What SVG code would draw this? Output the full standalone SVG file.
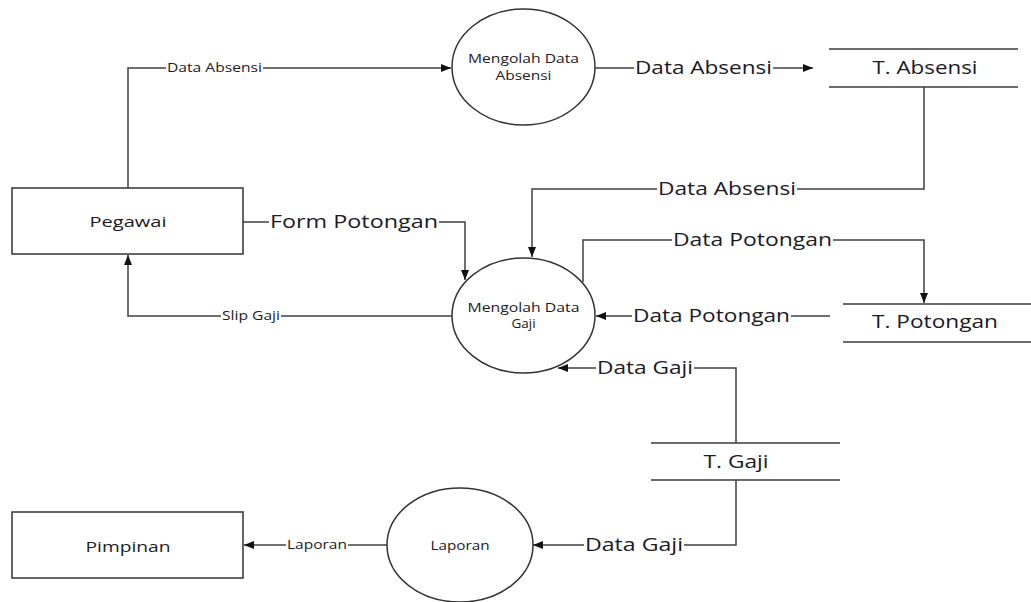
<svg xmlns="http://www.w3.org/2000/svg" width="1031" height="602" viewBox="0 0 1031 602">
  <defs>
    <style>
      .shape { fill: #ffffff; stroke: #333333; stroke-width: 1.5; }
      .store { stroke: #3a3a3a; stroke-width: 1.5; fill: none; }
      .flow { fill: none; stroke: #404040; stroke-width: 1.5; marker-end: url(#arrow); }
      .bg { fill: #ffffff; }
      text { font-family: "Open Sans", "Liberation Sans", sans-serif; fill: #1a1a26; }
      .sm { font-size: 12px; }
      .md { font-size: 13.5px; text-anchor: middle; }
      .ent { font-size: 14px; text-anchor: middle; }
      .lg { font-size: 18px; }
      .st { font-size: 18px; text-anchor: middle; }
    </style>
    <marker id="arrow" markerUnits="userSpaceOnUse" markerWidth="10" markerHeight="10" viewBox="0 0 10 10" refX="10" refY="5" orient="auto">
      <path d="M0,1 L10,5 L0,9 Z" fill="#111111"/>
    </marker>
  </defs>

  <!-- data flows -->
  <g id="connectors">
    <path class="flow" d="M128,188 V68 H451"/>
    <path class="flow" d="M595,68 H813"/>
    <path class="flow" d="M924,87 V189 H532 V257"/>
    <path class="flow" d="M243,222 H465 V280"/>
    <path class="flow" d="M452,316 H128 V255"/>
    <path class="flow" d="M583,282 V240 H924 V303"/>
    <path class="flow" d="M830,316 H596"/>
    <path class="flow" d="M736,443 V368 H558"/>
    <path class="flow" d="M736,480 V545 H533"/>
    <path class="flow" d="M387,545 H244"/>
  </g>

  <!-- flow labels -->
  <g id="flow-labels">
    <rect class="bg" x="166" y="62" width="97" height="12"/>
    <text class="sm" x="167" y="72" textLength="95" lengthAdjust="spacingAndGlyphs">Data Absensi</text>

    <rect class="bg" x="634" y="59" width="139" height="18"/>
    <text class="lg" x="635" y="74" textLength="137" lengthAdjust="spacingAndGlyphs">Data Absensi</text>

    <rect class="bg" x="657" y="180" width="140" height="18"/>
    <text class="lg" x="658" y="195" textLength="138" lengthAdjust="spacingAndGlyphs">Data Absensi</text>

    <rect class="bg" x="269" y="213" width="170" height="18"/>
    <text class="lg" x="270" y="228" textLength="168" lengthAdjust="spacingAndGlyphs">Form Potongan</text>

    <rect class="bg" x="221" y="310" width="60" height="12"/>
    <text class="sm" x="222" y="320" textLength="58" lengthAdjust="spacingAndGlyphs">Slip Gaji</text>

    <rect class="bg" x="672" y="231" width="161" height="18"/>
    <text class="lg" x="673" y="246" textLength="159" lengthAdjust="spacingAndGlyphs">Data Potongan</text>

    <rect class="bg" x="632" y="307" width="159" height="18"/>
    <text class="lg" x="633" y="322" textLength="157" lengthAdjust="spacingAndGlyphs">Data Potongan</text>

    <rect class="bg" x="596" y="359" width="98" height="18"/>
    <text class="lg" x="597" y="374" textLength="96" lengthAdjust="spacingAndGlyphs">Data Gaji</text>

    <rect class="bg" x="584" y="536" width="100" height="18"/>
    <text class="lg" x="585" y="551" textLength="98" lengthAdjust="spacingAndGlyphs">Data Gaji</text>

    <rect class="bg" x="286" y="539" width="62" height="12"/>
    <text class="sm" x="287" y="549" textLength="60" lengthAdjust="spacingAndGlyphs">Laporan</text>
  </g>

  <!-- external entities -->
  <g id="pegawai">
    <rect class="shape" x="12" y="188" width="231" height="66"/>
    <text class="ent" x="128" y="227" textLength="77" lengthAdjust="spacingAndGlyphs">Pegawai</text>
  </g>
  <g id="pimpinan">
    <rect class="shape" x="12" y="512" width="231" height="66"/>
    <text class="ent" x="128" y="552" textLength="85" lengthAdjust="spacingAndGlyphs">Pimpinan</text>
  </g>

  <!-- processes -->
  <g id="mengolah-data-absensi">
    <ellipse class="shape" cx="523.5" cy="67" rx="71.5" ry="58"/>
    <text class="md" x="523.5" y="63" textLength="111" lengthAdjust="spacingAndGlyphs">Mengolah Data</text>
    <text class="md" x="523.5" y="80" textLength="56" lengthAdjust="spacingAndGlyphs">Absensi</text>
  </g>
  <g id="mengolah-data-gaji">
    <ellipse class="shape" cx="523.5" cy="315.5" rx="71.5" ry="57.5"/>
    <text class="md" x="523.5" y="312" textLength="112" lengthAdjust="spacingAndGlyphs">Mengolah Data</text>
    <text class="md" x="523.5" y="328">Gaji</text>
  </g>
  <g id="laporan">
    <ellipse class="shape" cx="460" cy="545" rx="73" ry="57"/>
    <text class="md" x="460" y="550" textLength="59" lengthAdjust="spacingAndGlyphs">Laporan</text>
  </g>

  <!-- data stores -->
  <g id="t-absensi">
    <line class="store" x1="829" y1="49" x2="1018" y2="49"/>
    <line class="store" x1="829" y1="87" x2="1018" y2="87"/>
    <text class="st" x="925" y="74" textLength="105" lengthAdjust="spacingAndGlyphs">T. Absensi</text>
  </g>
  <g id="t-potongan">
    <line class="store" x1="843" y1="304" x2="1031" y2="304"/>
    <line class="store" x1="843" y1="342" x2="1031" y2="342"/>
    <text class="st" x="935" y="328" textLength="126" lengthAdjust="spacingAndGlyphs">T. Potongan</text>
  </g>
  <g id="t-gaji">
    <line class="store" x1="651" y1="443" x2="840" y2="443"/>
    <line class="store" x1="651" y1="480" x2="840" y2="480"/>
    <text class="st" x="736" y="468" textLength="65" lengthAdjust="spacingAndGlyphs">T. Gaji</text>
  </g>
</svg>
